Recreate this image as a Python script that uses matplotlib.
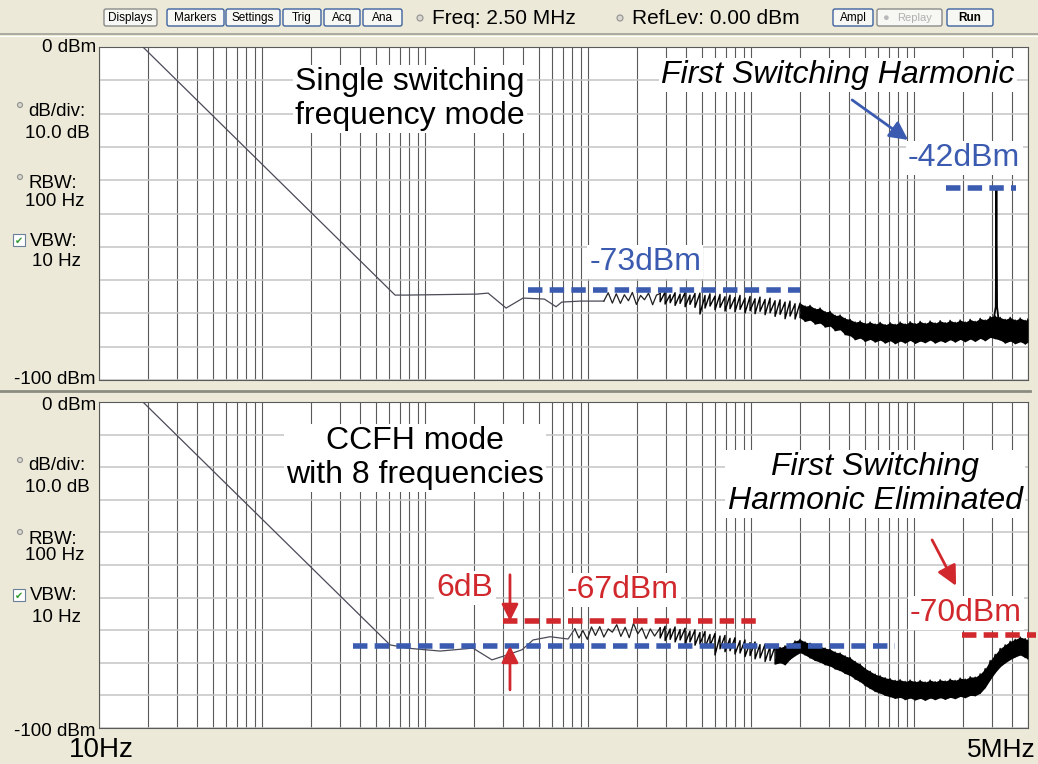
import matplotlib.pyplot as plt
from matplotlib.patches import FancyBboxPatch, Rectangle, Circle
from matplotlib.ticker import LogLocator, MultipleLocator, NullLocator

plt.rcParams['font.family'] = ['Liberation Sans', 'DejaVu Sans']

BLUE = '#3b5bb0'
RED = '#d1282d'
BEIGE = '#ece9d8'
TRACE = '#4a4a58'

# --- data read off the analyser screens (Hz, dBm) ---
# smooth low-frequency part of each trace
top_line_f = [18.6, 655, 776, 2085, 2437, 3142, 3993, 5400, 6362, 6900, 9000, 11850, 12500]
top_line_db = [0, -74.5, -74.5, -74.2, -73.9, -78.4, -75.4, -75.7, -78.0, -76.6, -76.3, -76.3, -76.3]
bot_line_f = [18.6, 610, 776, 1236, 1968, 2574, 3185, 3936, 4600, 5850, 7540, 8300]
bot_line_db = [0, -74.5, -75.5, -76.4, -75.5, -79.1, -77.6, -76.0, -73.0, -72.0, -72.7, -69.6]

# sparse jagged part
top_zig_f = [12500, 13300, 14100, 14900, 15800, 16700, 17700, 18700, 19800, 21000,
             22200, 23500, 24900, 26300, 27700]
top_zig_db = [-76.3, -73.8, -76.9, -74.1, -77.0, -74.4, -76.2, -73.7, -77.3, -74.6,
              -75.9, -73.9, -77.4, -74.5, -74.0]
bot_zig_f = [8300, 8800, 9300, 9900, 10500, 11100, 11800, 12500, 13300, 14100, 15000,
             15900, 16900, 17900, 19000, 20200, 21400, 22700, 24100, 25600, 27700]
bot_zig_db = [-69.6, -72.4, -70.1, -72.8, -69.0, -71.6, -68.9, -72.1, -69.6, -70.6, -68.3,
              -71.9, -69.1, -72.3, -67.9, -71.1, -69.3, -72.6, -69.6, -71.8, -69.3]

# dense noise (upper / lower edge of the trace)
band_f = [27.7e3, 29.7e3, 31.9e3, 34.2e3, 36.7e3, 39.4e3, 42.2e3, 45.3e3,
          48.6e3, 52.2e3, 56.0e3, 60.1e3, 64.5e3, 69.2e3, 74.3e3, 79.7e3,
          85.6e3, 91.8e3, 98.6e3, 105.8e3, 113.5e3, 121.9e3, 130.8e3, 140.4e3,
          150.7e3, 161.7e3, 173.5e3, 186.2e3, 199.9e3, 214.5e3, 230.2e3, 247.1e3,
          265.2e3, 284.6e3, 305.5e3, 327.8e3, 351.8e3, 377.6e3, 405.2e3, 434.9e3,
          466.8e3, 500.9e3, 537.6e3, 577.0e3, 619.2e3, 664.6e3, 713.2e3, 765.5e3,
          821.5e3, 881.7e3, 946.2e3, 1.016e6, 1.090e6, 1.170e6, 1.255e6, 1.347e6,
          1.446e6, 1.552e6, 1.665e6, 1.787e6, 1.918e6, 2.059e6, 2.209e6, 2.371e6,
          2.545e6, 2.731e6, 2.931e6, 3.145e6, 3.376e6, 3.623e6, 3.888e6, 4.173e6,
          4.478e6, 4.806e6, 5.0e6]
top_hi = [-74.0, -73.6, -74.4, -73.8, -74.2, -73.7, -74.5, -74.0,
          -73.9, -74.6, -74.1, -74.8, -74.3, -75.0, -74.5, -75.2,
          -74.6, -75.4, -74.9, -75.6, -75.1, -75.8, -75.4, -76.2,
          -75.9, -76.6, -76.3, -77.1, -76.9, -77.8, -77.6, -78.6,
          -78.4, -79.5, -79.4, -80.6, -80.5, -81.5, -81.8, -82.6,
          -82.3, -83.0, -82.6, -83.2, -82.7, -83.4, -82.8, -83.3,
          -82.6, -83.2, -82.5, -83.1, -82.4, -83.0, -82.3, -82.9,
          -82.2, -82.8, -82.1, -82.7, -82.0, -82.6, -81.8, -82.4,
          -81.5, -82.0, -81.0, -80.8, -81.2, -81.8, -81.2, -82.0,
          -81.4, -82.1, -81.6]
top_lo = [-76.5, -77.2, -76.8, -77.6, -77.0, -78.0, -77.3, -78.2,
          -80.2, -78.4, -77.8, -78.9, -78.2, -79.3, -78.6, -79.5,
          -78.8, -79.9, -79.2, -80.1, -79.4, -80.4, -79.8, -80.9,
          -80.3, -81.6, -80.8, -81.7, -81.3, -82.4, -82.0, -83.2,
          -82.9, -84.1, -83.8, -85.2, -84.9, -86.4, -86.7, -87.9,
          -87.4, -88.4, -87.8, -88.6, -88.0, -88.9, -88.2, -89.1,
          -88.3, -88.9, -88.1, -89.0, -88.3, -88.8, -88.0, -88.9,
          -88.2, -88.7, -87.9, -88.6, -87.8, -88.5, -87.7, -88.4,
          -87.5, -88.2, -87.2, -87.6, -88.0, -88.9, -88.3, -89.1,
          -88.5, -89.2, -88.6]
bot_hi = [-69.3, -68.8, -69.6, -69.0, -69.8, -69.4, -70.3, -69.9,
          -70.7, -70.4, -71.3, -71.0, -71.8, -71.6, -72.5, -72.3,
          -73.2, -73.0, -73.8, -73.6, -74.4, -74.3, -75.0, -74.9,
          -75.3, -74.8, -74.2, -73.3, -72.8, -73.6, -74.0, -74.6,
          -74.9, -75.5, -75.8, -76.7, -77.0, -77.9, -78.4, -79.6,
          -80.4, -81.7, -82.6, -83.5, -84.0, -84.6, -84.9, -85.4,
          -85.2, -85.7, -85.3, -85.8, -85.4, -85.9, -85.3, -85.8,
          -85.2, -85.6, -85.0, -85.4, -84.7, -85.0, -84.3, -84.4,
          -83.4, -81.8, -79.3, -77.4, -75.6, -74.5, -73.4, -72.8,
          -72.1, -72.6, -73.0]
bot_lo = [-72.4, -73.2, -72.8, -73.6, -73.0, -74.1, -73.6, -74.6,
          -74.2, -75.3, -74.8, -77.6, -75.7, -76.6, -76.3, -77.3,
          -77.0, -78.1, -77.8, -78.8, -78.5, -79.6, -79.3, -80.4,
          -80.0, -80.6, -78.9, -77.8, -76.9, -77.6, -78.5, -79.3,
          -79.8, -80.6, -81.0, -81.9, -82.4, -83.3, -83.9, -85.0,
          -85.8, -87.0, -87.9, -88.8, -89.3, -90.0, -90.4, -90.9,
          -90.6, -91.3, -90.8, -91.4, -90.9, -91.5, -90.8, -91.3,
          -90.7, -91.2, -90.6, -91.0, -90.3, -90.7, -90.0, -90.1,
          -89.3, -87.6, -85.2, -83.0, -81.2, -80.0, -79.0, -78.2,
          -77.6, -78.4, -78.8]

# switching harmonic spike (single frequency mode)
spike_f = [3.10e6, 3.17e6, 3.20e6, 3.23e6, 3.30e6]
spike_db = [-81.0, -78.0, -42.3, -78.0, -82.0]

# marked levels
lvl_top_noise = -73.0
lvl_top_harm = -42.3
lvl_bot_peak = -67.2
lvl_bot_base = -74.8
lvl_bot_harm = -71.5


fig = plt.figure(figsize=(10.38, 7.64), dpi=100, facecolor=BEIGE)

# pixel-space layer for the analyser chrome
bg = fig.add_axes([0, 0, 1, 1], zorder=0)
bg.set_xlim(0, 1038)
bg.set_ylim(764, 0)
bg.axis('off')

W, H = 1038, 764


def panel(top, bottom):
    ax = fig.add_axes([99 / W, 1 - bottom / H, 929 / W, (bottom - top) / H], zorder=1)
    ax.set_xscale('log')
    ax.set_xlim(10, 5e6)
    ax.set_ylim(-100, 0)
    ax.xaxis.set_major_locator(LogLocator(base=10, subs=range(1, 10), numticks=100))
    ax.xaxis.set_minor_locator(NullLocator())
    ax.yaxis.set_major_locator(MultipleLocator(10))
    ax.grid(axis='x', color='#5a5a5a', lw=0.8)
    ax.grid(axis='y', color='#c4c4c4', lw=1.1)
    ax.set_axisbelow(True)
    ax.tick_params(length=0, labelbottom=False, labelleft=False)
    for s in ax.spines.values():
        s.set_color('#5a5a5a')
    return ax


def draw_trace(ax, line_f, line_db, zig_f, zig_db, hi, lo, solid_from):
    ax.plot(line_f, line_db, color=TRACE, lw=0.9, zorder=3)
    ax.plot(zig_f, zig_db, color='#202020', lw=0.9, zorder=3)
    # noisy part: jump between upper and lower edge at every sample
    saw_f, saw_db = [], []
    for f, h, l in zip(band_f, hi, lo):
        saw_f += [f, f]
        saw_db += [h, l]
    ax.plot(saw_f, saw_db, color='black', lw=1.0, zorder=3)
    # where the analyser trace turns into a solid band
    ax.fill_between(band_f, lo, hi, where=[f >= solid_from for f in band_f],
                    color='black', lw=0, zorder=3)


label_kw = dict(ha='center', va='center', fontsize=23, zorder=6,
                bbox=dict(facecolor='white', edgecolor='none', pad=1.5))
dash_kw = dict(lw=4, linestyles=(0, (2.6, 1.3)), capstyle='butt', zorder=4)

# ---- upper panel ----
ax1 = panel(47, 380)
draw_trace(ax1, top_line_f, top_line_db, top_zig_f, top_zig_db, top_hi, top_lo, 190e3)
ax1.plot(spike_f, spike_db, color='black', lw=1.3, zorder=3)
ax1.hlines(lvl_top_noise, 4290, 200e3, color=BLUE, **dash_kw)
ax1.hlines(lvl_top_harm, 1.56e6, 4.2e6, color=BLUE, **dash_kw)
ax1.text(809, -15.6, 'Single switching\nfrequency mode', linespacing=1.15, **label_kw)
ax1.text(342e3, -8.4, 'First Switching Harmonic', style='italic', **label_kw)
ax1.text(2.03e6, -33.3, '-42dBm', color=BLUE, **label_kw)
ax1.text(22.4e3, -64.6, '-73dBm', color=BLUE, **label_kw)
ax1.annotate('', xy=(919e3, -27.9), xytext=(417e3, -15.9), zorder=6,
             arrowprops=dict(arrowstyle='-|>,head_length=0.55,head_width=0.28',
                             mutation_scale=20, lw=2, color=BLUE, shrinkA=0, shrinkB=0))

# ---- lower panel ----
ax2 = panel(402, 728)
draw_trace(ax2, bot_line_f, bot_line_db, bot_zig_f, bot_zig_db, bot_hi, bot_lo, 140e3)
ax2.hlines(lvl_bot_peak, 3010, 117e3, color=RED, **dash_kw)
ax2.hlines(lvl_bot_base, 361, 764e3, color=BLUE, **dash_kw)
ax2.hlines(lvl_bot_harm, 1.98e6, 5.6e6, color=RED, clip_on=False, **dash_kw)
ax2.text(869, -17.2, 'CCFH mode\nwith 8 frequencies', linespacing=1.15, **label_kw)
ax2.text(577e3, -25.2, 'First Switching\nHarmonic Eliminated', style='italic',
         linespacing=1.15, **label_kw)
ax2.text(1757, -57.0, '6dB', color=RED, **label_kw)
ax2.text(16.4e3, -57.7, '-67dBm', color=RED, **label_kw)
ax2.text(2.08e6, -64.7, '-70dBm', color=RED, **label_kw)
red_arrow = dict(arrowstyle='-|>,head_length=0.5,head_width=0.25',
                 mutation_scale=20, lw=2, color=RED, shrinkA=0, shrinkB=0)
ax2.annotate('', xy=(3320, lvl_bot_peak), xytext=(3320, -53.0), arrowprops=red_arrow, zorder=6)
ax2.annotate('', xy=(3320, lvl_bot_base), xytext=(3320, -88.3), arrowprops=red_arrow, zorder=6)
ax2.annotate('', xy=(1.81e6, -56.4), xytext=(1.29e6, -42.3), zorder=6,
             arrowprops=dict(arrowstyle='-|>,head_length=0.6,head_width=0.3',
                             mutation_scale=20, lw=2, color=RED, shrinkA=0, shrinkB=0))

# ---- analyser chrome ----
bg.plot([0, W], [34, 34], color='#a09f94', lw=1.2)
bg.plot([0, W], [35.5, 35.5], color='white', lw=0.8)
bg.plot([0, 1030], [391, 391], color='#8c8b80', lw=2)

buttons = [('Displays', 104, 157), ('Markers', 167, 224), ('Settings', 226, 280),
           ('Trig', 283, 321), ('Acq', 324, 360), ('Ana', 363, 402),
           ('Ampl', 833, 873), ('Replay', 877, 942), ('Run', 947, 993)]
for name, x0, x1 in buttons:
    edge = '#8a8a8a' if name in ('Displays', 'Replay') else '#3d62a0'
    bg.add_patch(FancyBboxPatch((x0, 9), x1 - x0, 17, boxstyle='round,pad=0,rounding_size=2',
                                fc='#f7f7f3', ec=edge, lw=1))
    if name == 'Replay':
        bg.text(x0 + 8, 18, '●', color='#b8b8b8', fontsize=8, ha='center', va='center')
        bg.text(x0 + 38, 18, name, color='#b0b0b0', fontsize=8, ha='center', va='center')
    else:
        bg.text((x0 + x1) / 2, 18, name, fontsize=8.5, ha='center', va='center',
                fontweight='bold' if name == 'Run' else 'normal')

for cx in (420, 620):
    bg.add_patch(Circle((cx, 18), 3, fc='#d8d8d0', ec='#909090', lw=0.8))
bg.text(432, 18, 'Freq: 2.50 MHz', fontsize=15, va='center')
bg.text(632, 18, 'RefLev: 0.00 dBm', fontsize=15, va='center')

side = dict(fontsize=13.5, va='center')
for dy in (0, 355):
    bg.text(96, 47 + dy + (3 if dy else 0), '0 dBm', ha='right', **side)
    bg.add_patch(Circle((20, 105 + dy), 2.5, fc='#d8d8d0', ec='#909090', lw=0.8))
    bg.text(28, 111 + dy, 'dB/div:', **side)
    bg.text(25, 133 + dy, '10.0 dB', **side)
    bg.add_patch(Circle((20, 177 + dy), 2.5, fc='#d8d8d0', ec='#909090', lw=0.8))
    bg.text(28, 184 + dy, 'RBW:', **side)
    bg.text(25, 201 + dy, '100 Hz', **side)
    bg.add_patch(Rectangle((13, 234 + dy), 12, 12, fc='white', ec='#6a7f9a', lw=0.8))
    bg.text(19, 240.5 + dy, '✔', color='#2e9a2e', fontsize=7, ha='center', va='center',
            family='DejaVu Sans')
    bg.text(30, 241 + dy, 'VBW:', **side)
    bg.text(32, 262 + dy, '10 Hz', **side)
bg.text(96, 379, '-100 dBm', ha='right', **side)
bg.text(96, 731, '-100 dBm', ha='right', **side)

bg.text(101, 750, '10Hz', ha='center', va='center', fontsize=20)
bg.text(1001, 750, '5MHz', ha='center', va='center', fontsize=19)

fig.savefig('out.png', dpi=100, facecolor=BEIGE)
